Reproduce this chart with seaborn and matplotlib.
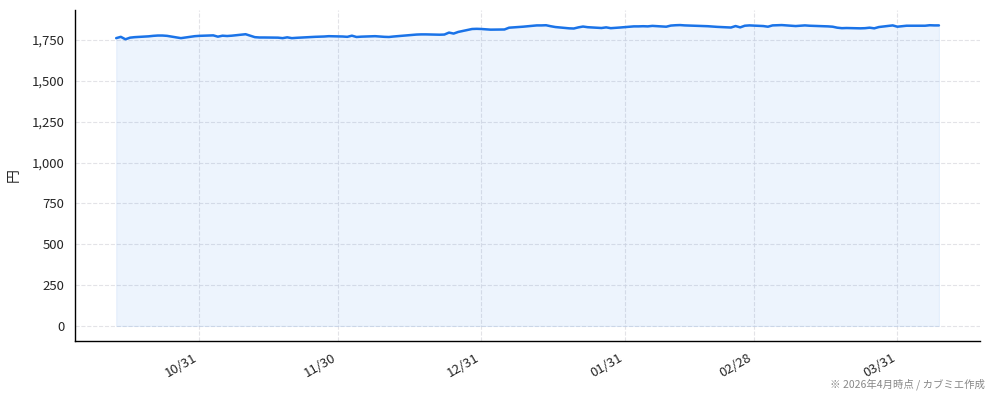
import numpy as np
import pandas as pd
import matplotlib
matplotlib.use("Agg")
import matplotlib.pyplot as plt
import matplotlib.dates as mdates
import matplotlib.ticker as mticker
import seaborn as sns

# business days 2025-10-13 .. 2026-04-09
start_date = "2025-10-13"
end_date = "2026-04-09"

# closing price (yen) per month
oct_vals = [1762, 1770, 1755, 1765, 1768, 1773, 1776, 1778, 1778, 1776, 1762, 1766, 1770, 1774, 1776]
nov_vals = [1779, 1771, 1777, 1775, 1777, 1786, 1777, 1768, 1766, 1766, 1765, 1762, 1767, 1762, 1764,
            1769, 1770, 1771, 1772, 1774]
dec_vals = [1772, 1770, 1777, 1769, 1771, 1774, 1772, 1770, 1769, 1772, 1779, 1781, 1784, 1785, 1785,
            1783, 1784, 1796, 1790, 1800, 1818, 1819, 1818]
jan_vals = [1816, 1814, 1815, 1826, 1828, 1830, 1832, 1840, 1840, 1841, 1835, 1830, 1822, 1821, 1828,
            1833, 1829, 1824, 1828, 1823, 1825, 1827]
feb_vals = [1834, 1834, 1835, 1834, 1837, 1832, 1839, 1841, 1842, 1840, 1837, 1836, 1835, 1833, 1831,
            1827, 1836, 1828, 1838, 1840]
mar_vals = [1836, 1832, 1840, 1841, 1842, 1836, 1838, 1840, 1838, 1837, 1834, 1832, 1826, 1823, 1824,
            1822, 1823, 1826, 1822, 1830, 1840, 1832]
apr_vals = [1835, 1838, 1838, 1838, 1841, 1840, 1840]

prices = oct_vals + nov_vals + dec_vals + jan_vals + feb_vals + mar_vals + apr_vals
dates = pd.bdate_range(start_date, end_date)
df = pd.DataFrame({"date": dates, "price": prices})

sns.set_style("white")
plt.rcParams['font.family'] = ['Noto Sans CJK JP', 'DejaVu Sans']

fig = plt.figure(figsize=(9.94, 4.01), dpi=100)
ax = fig.add_axes([0.0755, 0.1496, 0.9105, 0.8254])

line_color = "#1a73e8"
sns.lineplot(data=df, x="date", y="price", ax=ax, color=line_color, linewidth=1.8)
ax.fill_between(df["date"], df["price"], 0, color=line_color, alpha=0.08, linewidth=0.8,
                edgecolor=(0.1, 0.45, 0.91, 0.1))

# month-end ticks
ticks = pd.date_range("2025-10-31", "2026-03-31", freq="ME")
ax.set_xticks(ticks)
ax.xaxis.set_major_formatter(mdates.DateFormatter("%m/%d"))
plt.setp(ax.get_xticklabels(), rotation=30, ha="right")
ax.yaxis.set_major_locator(mticker.MultipleLocator(250))
ax.yaxis.set_major_formatter(mticker.StrMethodFormatter("{x:,.0f}"))
ax.tick_params(axis="both", labelsize=9.5, length=4, color="black", direction="out")

ax.grid(True, linestyle="--", color="#dcdce2", linewidth=0.8, alpha=0.8)
ax.set_axisbelow(True)
sns.despine(ax=ax)
for s in ["left", "bottom"]:
    ax.spines[s].set_color("black")
    ax.spines[s].set_linewidth(1.0)

ax.set_xlabel("")
ax.set_ylabel("円", fontsize=10, labelpad=8)

fig.text(0.991, 0.028, "※ 2026年4月時点 / カブミエ作成", ha="right", va="bottom",
         fontsize=7.5, color="#888888")

fig.savefig("out.png", dpi=100)
